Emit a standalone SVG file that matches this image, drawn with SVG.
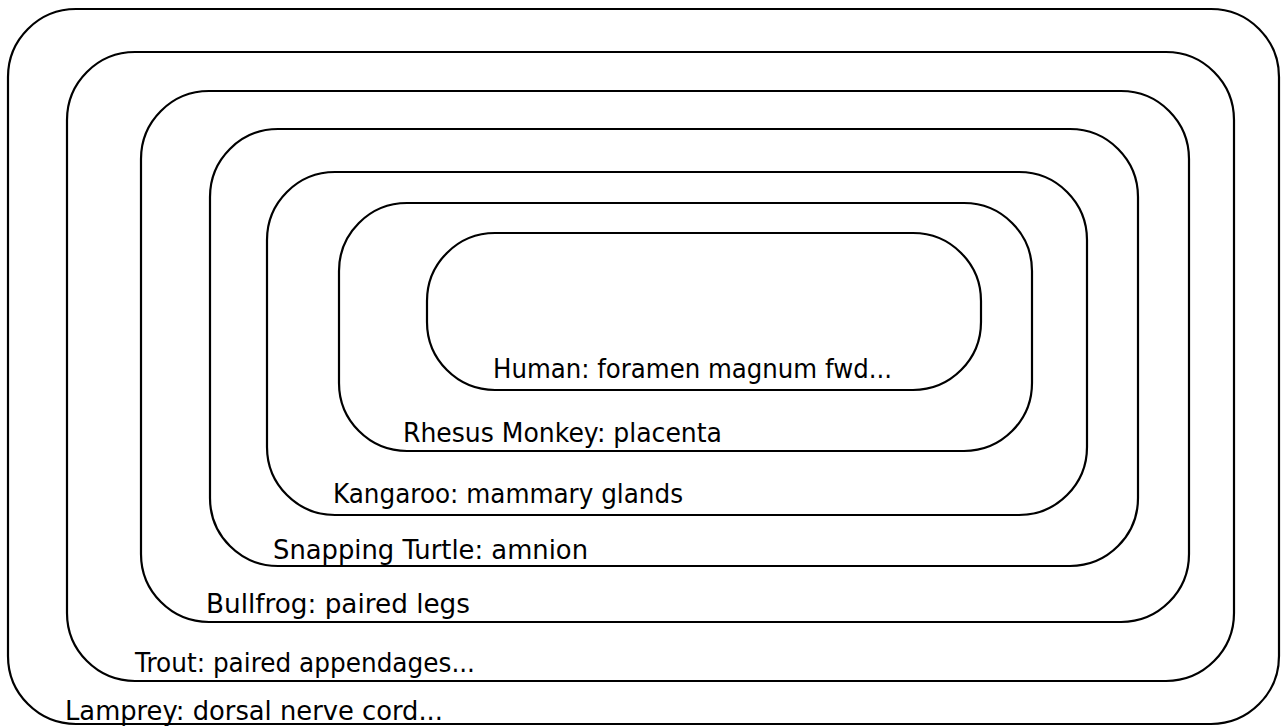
<svg xmlns="http://www.w3.org/2000/svg" width="1285" height="726" viewBox="0 0 1285 726">
<style>
.box{fill:none;stroke:#000;stroke-width:2.2}
.lbl{font-family:"DejaVu Sans","Liberation Sans",sans-serif;font-size:26px;fill:#000}
</style>
<rect x="0" y="0" width="1285" height="726" fill="#fff"/>
<g id="lamprey"><rect class="box" x="8" y="9" width="1271" height="715" rx="68" ry="68"/><text class="lbl" x="65" y="720" textLength="378" lengthAdjust="spacingAndGlyphs">Lamprey: dorsal nerve cord...</text></g>
<g id="trout"><rect class="box" x="67" y="52" width="1167" height="629" rx="68" ry="68"/><text class="lbl" x="135" y="672" textLength="340" lengthAdjust="spacingAndGlyphs">Trout: paired appendages...</text></g>
<g id="bullfrog"><rect class="box" x="141" y="91" width="1048" height="531" rx="68" ry="68"/><text class="lbl" x="206" y="613" textLength="264" lengthAdjust="spacingAndGlyphs">Bullfrog: paired legs</text></g>
<g id="turtle"><rect class="box" x="210" y="129" width="928" height="437" rx="68" ry="68"/><text class="lbl" x="273" y="559" textLength="315" lengthAdjust="spacingAndGlyphs">Snapping Turtle: amnion</text></g>
<g id="kangaroo"><rect class="box" x="267" y="172" width="820" height="343" rx="68" ry="68"/><text class="lbl" x="333" y="503" textLength="350" lengthAdjust="spacingAndGlyphs">Kangaroo: mammary glands</text></g>
<g id="rhesus"><rect class="box" x="339" y="203" width="693" height="248" rx="68" ry="68"/><text class="lbl" x="403" y="442" textLength="319" lengthAdjust="spacingAndGlyphs">Rhesus Monkey: placenta</text></g>
<g id="human"><rect class="box" x="427" y="233" width="554" height="157" rx="68" ry="68"/><text class="lbl" x="493" y="378" textLength="399" lengthAdjust="spacingAndGlyphs">Human: foramen magnum fwd...</text></g>
<g id="connectors"/>
</svg>
